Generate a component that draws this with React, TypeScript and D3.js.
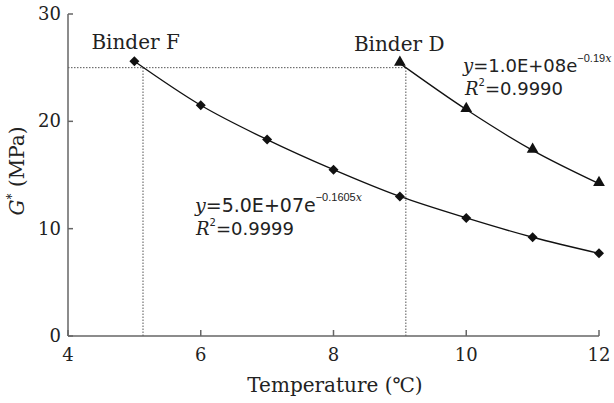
import React from "react";
import * as d3 from "d3";

const temps = [5, 6, 7, 8, 9, 10, 11, 12];
const binderF = [25.6, 21.5, 18.3, 15.5, 13.0, 11.0, 9.2, 7.7];
const tempsD = [9, 10, 11, 12];
const binderD = [25.4, 21.1, 17.3, 14.2];
const xTicks = [4, 6, 8, 10, 12];
const yTicks = [0, 10, 20, 30];
const targetG = 25;
const critF = 5.13;
const critD = 9.09;

const W = 614, H = 403;
const m = { left: 68, right: 15, top: 14, bottom: 67 };
const serif = "'DejaVu Serif', serif";
const sans = "'DejaVu Sans', sans-serif";
const supFont = "'Liberation Sans', sans-serif";

export default function App() {
  const x = d3.scaleLinear().domain([4, 12]).range([m.left, W - m.right]);
  const y = d3.scaleLinear().domain([0, 30]).range([H - m.bottom, m.top]);
  const line = d3
    .line<[number, number]>()
    .x((d) => x(d[0]))
    .y((d) => y(d[1]))
    .curve(d3.curveMonotoneX);
  const fPts = temps.map((t, i) => [t, binderF[i]] as [number, number]);
  const dPts = tempsD.map((t, i) => [t, binderD[i]] as [number, number]);
  const diamond = d3.symbol(d3.symbolSquare, 50)()!;
  const tri = d3.symbol(d3.symbolTriangle, 60)()!;
  const axisColor = "#666";
  return (
    <svg width={W} height={H} style={{ position: "absolute", left: 0, top: 0, background: "#fff" }}>
      {/* dotted guides */}
      <g stroke="#555" strokeWidth={1} strokeDasharray="1.5,1.5" fill="none">
        <line x1={x(4)} x2={x(critD)} y1={y(targetG)} y2={y(targetG)} />
        <line x1={x(critF)} x2={x(critF)} y1={y(0)} y2={y(targetG)} />
        <line x1={x(critD)} x2={x(critD)} y1={y(0)} y2={y(targetG)} />
      </g>
      {/* axes */}
      <g stroke={axisColor} strokeWidth={1.5}>
        <line x1={x(4)} x2={x(12)} y1={y(0)} y2={y(0)} />
        <line x1={x(4)} x2={x(4)} y1={y(0)} y2={y(30)} />
        {xTicks.map((t) => (
          <line key={t} x1={x(t)} x2={x(t)} y1={y(0)} y2={y(0) - 6} />
        ))}
        {yTicks.map((t) => (
          <line key={t} x1={x(4)} x2={x(4) + 5} y1={y(t)} y2={y(t)} />
        ))}
      </g>
      <g fontFamily={serif} fontSize={18} fill="#222">
        {xTicks.map((t) => (
          <text key={t} x={x(t)} y={y(0) + 25} textAnchor="middle">{t}</text>
        ))}
        {yTicks.map((t) => (
          <text key={t} x={x(4) - 7} y={y(t) + 6} textAnchor="end">{t}</text>
        ))}
        <text x={335} y={392} textAnchor="middle" fontSize={20}>Temperature (℃)</text>
        <text transform={`translate(24,171) rotate(-90)`} textAnchor="middle" fontSize={20}>
          <tspan fontStyle="italic">G</tspan>
          <tspan fontSize={12} dy={-8}>*</tspan>
          <tspan dy={8}> (MPa)</tspan>
        </text>
        <text x={x(5) - 43} y={y(25.6) - 12} fontSize={20}>Binder F</text>
        <text x={x(9) - 46} y={y(25.4) - 12} fontSize={20}>Binder D</text>
      </g>
      {/* curves */}
      <path d={line(fPts)!} fill="none" stroke="#111" strokeWidth={1.3} />
      <path d={line(dPts)!} fill="none" stroke="#111" strokeWidth={1.3} />
      {fPts.map((p, i) => (
        <path key={i} d={diamond} transform={`translate(${x(p[0])},${y(p[1])}) rotate(45)`} fill="#111" />
      ))}
      {dPts.map((p, i) => (
        <path key={i} d={tri} transform={`translate(${x(p[0])},${y(p[1]) - 1})`} fill="#111" />
      ))}
      {/* equations */}
      <g fontFamily={sans} fill="#222">
        <text x={195} y={212} fontSize={19}>
          <tspan fontFamily={serif} fontStyle="italic">y</tspan>
          <tspan>=5.0E+07e</tspan>
          <tspan fontSize={11} fontFamily={supFont} dy={-11}>−0.1605</tspan>
          <tspan fontSize={11} fontFamily={serif} fontStyle="italic">x</tspan>
        </text>
        <text x={196} y={235} fontSize={18}>
          <tspan fontFamily={serif} fontStyle="italic">R</tspan>
          <tspan fontSize={10} dy={-9}>2</tspan>
          <tspan dy={9}>=0.9999</tspan>
        </text>
        <text x={463} y={72} fontSize={18}>
          <tspan fontFamily={serif} fontStyle="italic">y</tspan>
          <tspan>=1.0E+08e</tspan>
          <tspan fontSize={11} fontFamily={supFont} dy={-10}>−0.19</tspan>
          <tspan fontSize={11} fontFamily={serif} fontStyle="italic">x</tspan>
        </text>
        <text x={465} y={95} fontSize={18}>
          <tspan fontFamily={serif} fontStyle="italic">R</tspan>
          <tspan fontSize={10} dy={-9}>2</tspan>
          <tspan dy={9}>=0.9990</tspan>
        </text>
      </g>
    </svg>
  );
}
